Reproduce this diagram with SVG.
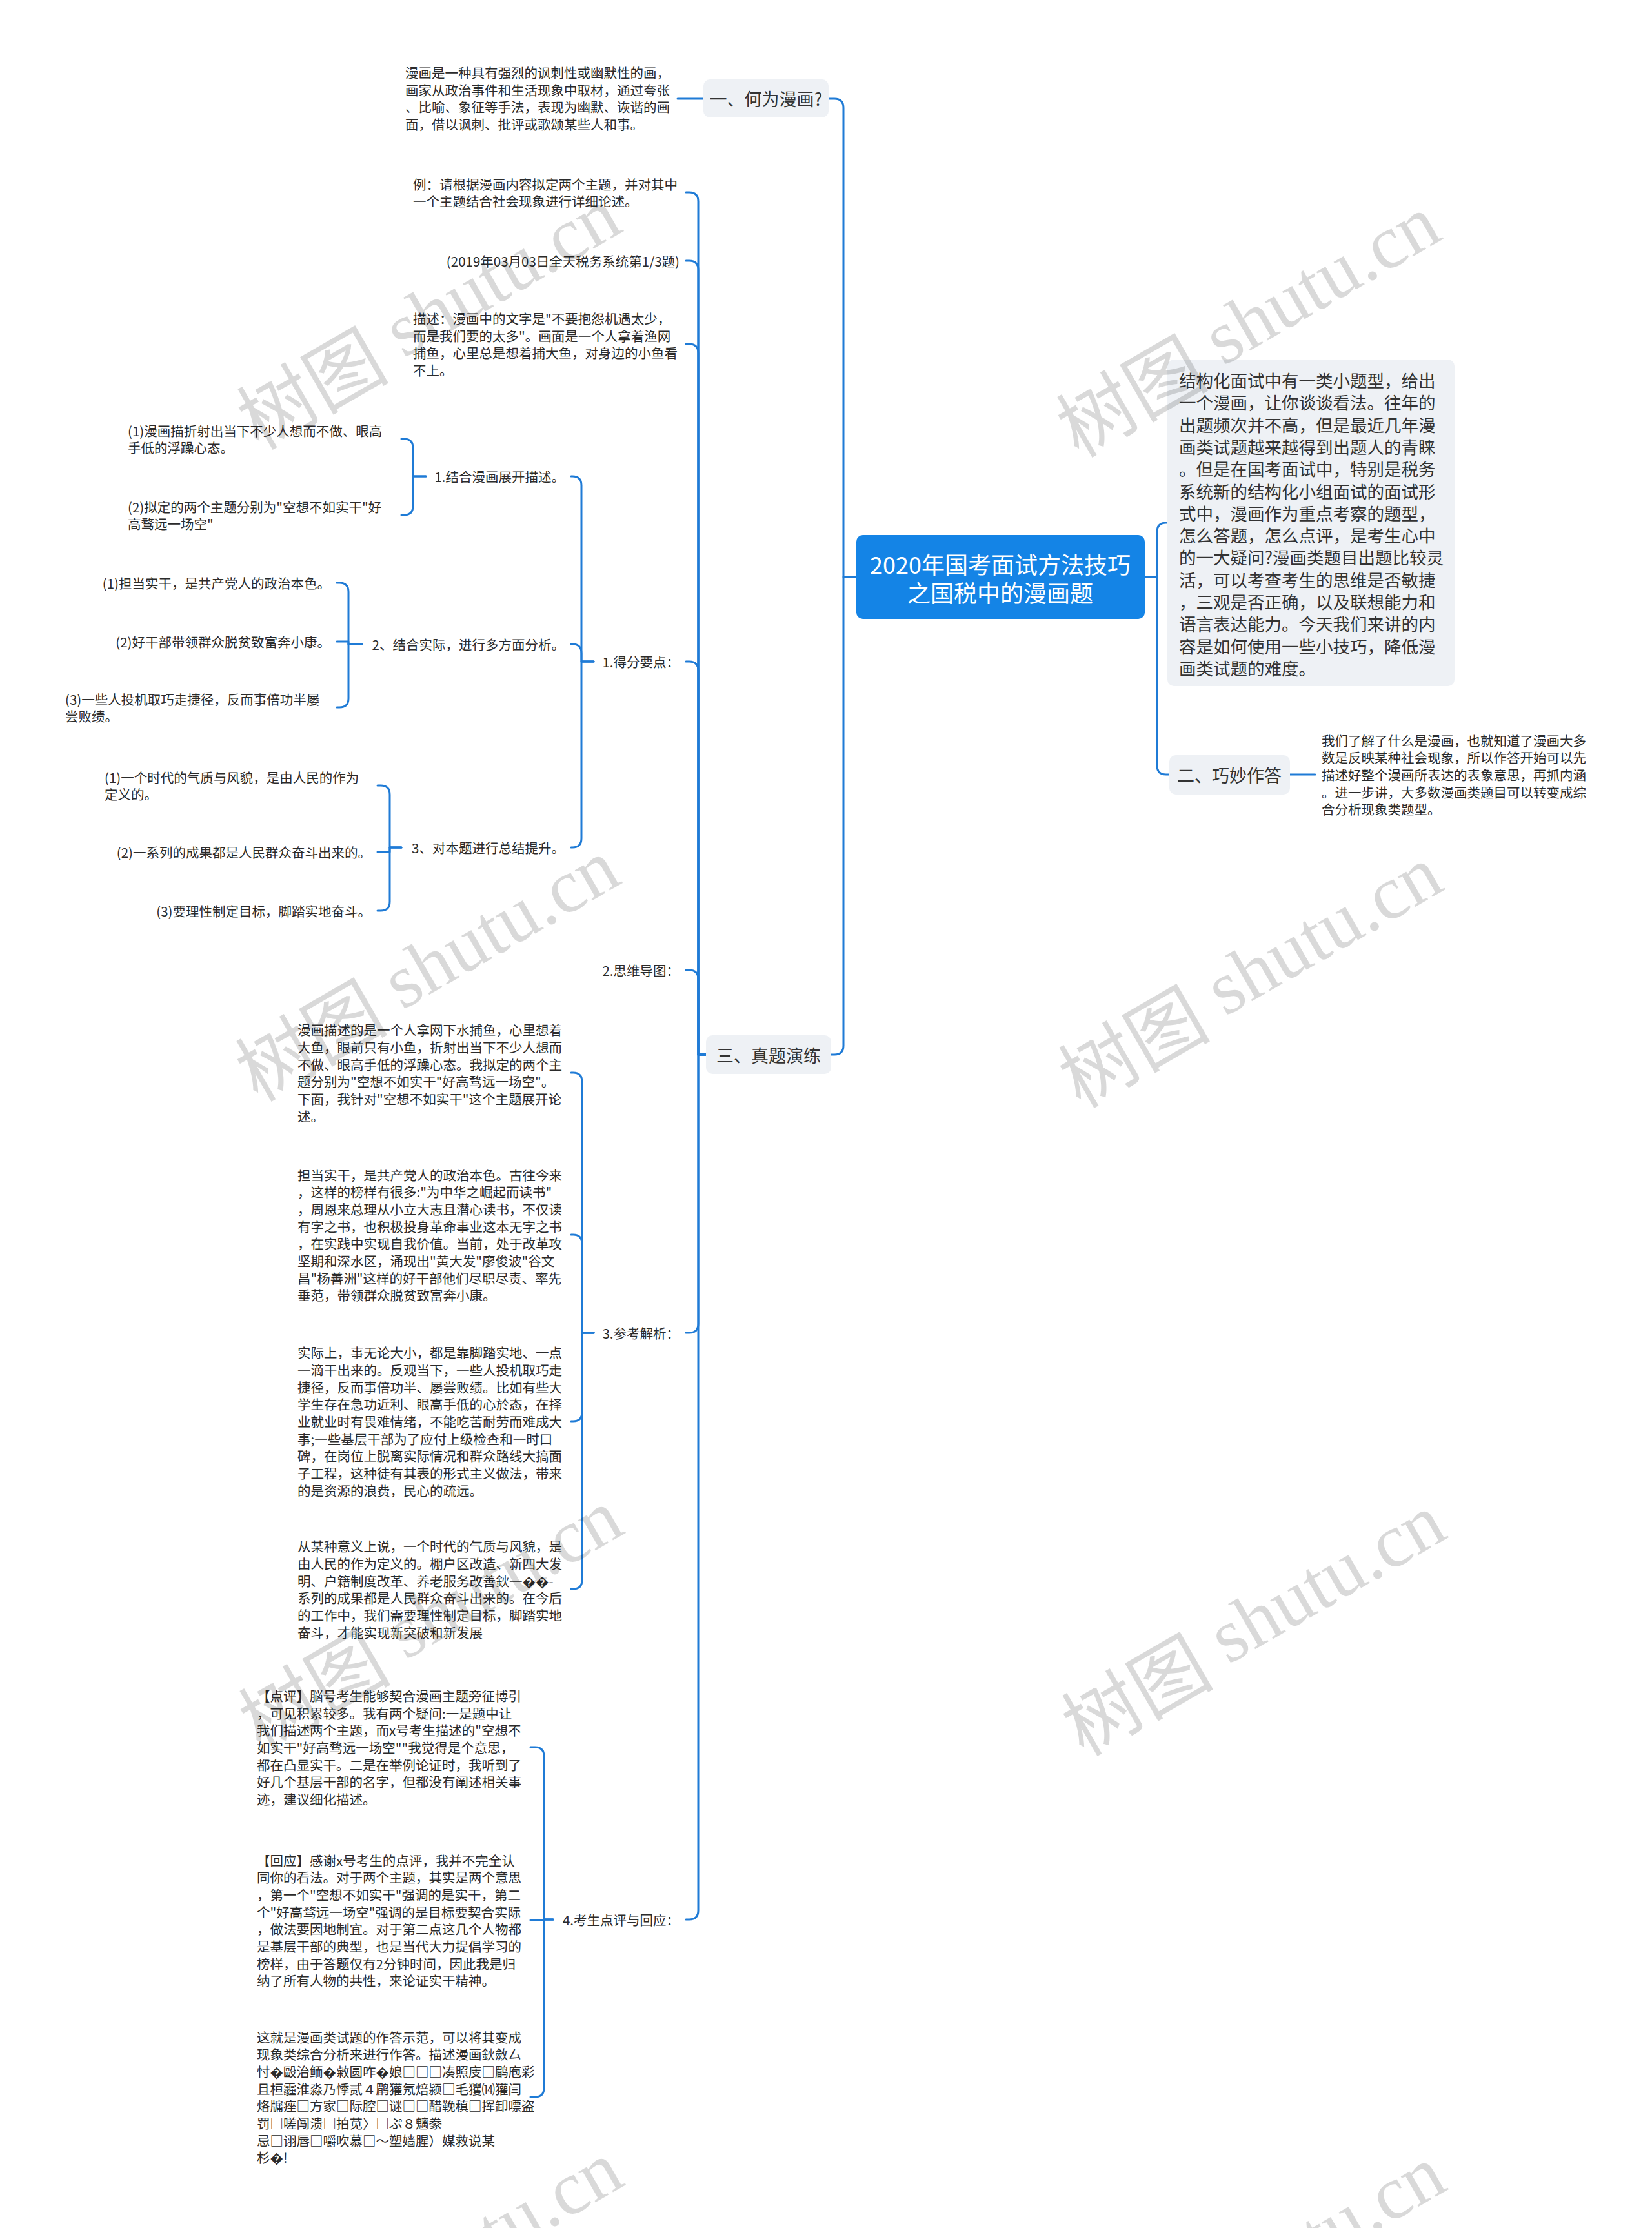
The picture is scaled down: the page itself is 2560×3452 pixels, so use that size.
<svg xmlns="http://www.w3.org/2000/svg" width="2560" height="3452" viewBox="0 0 2560 3452">
<style>
.t{font-family:"Noto Sans CJK SC","Noto Sans","DejaVu Sans",sans-serif;font-size:20.5px;fill:#2b2b2b;dominant-baseline:central}
.e{text-anchor:end}
.l1{font-size:27px;text-anchor:middle;fill:#333}
.root{font-size:36px;fill:#fff;text-anchor:middle}
.big{font-size:26.5px;fill:#333}
.box{fill:#eef1f5}
.c{fill:none;stroke:#1f7bd6;stroke-width:3;stroke-linecap:round;stroke-linejoin:round}
.wm{font-size:118px;fill:#000;fill-opacity:.15;dominant-baseline:central}
</style>
<rect width="2560" height="3452" fill="#fff"/>
<g id="connectors">
<path class="c" d="M1327,894 H1307 V167 Q1307,153 1293,153 H1283"/>
<path class="c" d="M1327,894 H1307 V1620 Q1307,1634 1293,1634 H1288"/>
<path class="c" d="M1774,894 H1793 V824 Q1793,810 1807,810 H1809"/>
<path class="c" d="M1774,894 H1793 V1186 Q1793,1200 1807,1200 H1812"/>
<path class="c" d="M1999,1200 H2038"/>
<path class="c" d="M1090,153 H1050"/>
<path class="c" d="M1094,1634 H1082 V312 Q1082,298 1068,298 H1063"/>
<path class="c" d="M1094,1634 H1082 V418 Q1082,404 1068,404 H1063"/>
<path class="c" d="M1094,1634 H1082 V547 Q1082,533 1068,533 H1063"/>
<path class="c" d="M1094,1634 H1082 V1039 Q1082,1025 1068,1025 H1063"/>
<path class="c" d="M1094,1634 H1082 V1517 Q1082,1503 1068,1503 H1063"/>
<path class="c" d="M1094,1634 H1082 V2051 Q1082,2065 1068,2065 H1063"/>
<path class="c" d="M1094,1634 H1082 V2960 Q1082,2974 1068,2974 H1063"/>
<path class="c" d="M920,1025 H901 V752 Q901,738 887,738 H885"/>
<path class="c" d="M920,1025 H901 V1012 Q901,998 887,998 H885"/>
<path class="c" d="M920,1025 H901 V1299 Q901,1313 887,1313 H885"/>
<path class="c" d="M660,738 H640 V694 Q640,680 626,680 H622"/>
<path class="c" d="M660,738 H640 V784 Q640,798 626,798 H622"/>
<path class="c" d="M561,998 H540 V917 Q540,903 526,903 H522"/>
<path class="c" d="M561,998 H540 V994 H522"/>
<path class="c" d="M561,998 H540 V1082 Q540,1096 526,1096 H522"/>
<path class="c" d="M622,1313 H604 V1231 Q604,1217 590,1217 H585"/>
<path class="c" d="M622,1313 H604 V1320 H585"/>
<path class="c" d="M622,1313 H604 V1397 Q604,1411 590,1411 H585"/>
<path class="c" d="M920,2065 H902 V1676 Q902,1662 888,1662 H885"/>
<path class="c" d="M920,2065 H902 V1927 Q902,1913 888,1913 H885"/>
<path class="c" d="M920,2065 H902 V2188 Q902,2202 888,2202 H885"/>
<path class="c" d="M920,2065 H902 V2448 Q902,2462 888,2462 H885"/>
<path class="c" d="M857,2974 H843 V2721 Q843,2707 829,2707 H822"/>
<path class="c" d="M857,2974 H843 V2975 H822"/>
<path class="c" d="M857,2974 H843 V3235 Q843,3249 829,3249 H822"/>
</g>
<g id="root">
<rect x="1327" y="829" width="447" height="130" rx="10" fill="#1484e6"/>
<text class="t root" x="1550"><tspan x="1550" y="873">2020年国考面试方法技巧</tspan><tspan x="1550" y="917">之国税中的漫画题</tspan></text>
</g>
<g id="n-intro">
<rect class="box" x="1809" y="557" width="445" height="506" rx="10"/>
<text class="t big" x="1827">
<tspan x="1827" y="588.05">结构化面试中有一类小题型，给出</tspan>
<tspan x="1827" y="622.35">一个漫画，让你谈谈看法。往年的</tspan>
<tspan x="1827" y="656.65">出题频次并不高，但是最近几年漫</tspan>
<tspan x="1827" y="690.95">画类试题越来越得到出题人的青睐</tspan>
<tspan x="1827" y="725.25">。但是在国考面试中，特别是税务</tspan>
<tspan x="1827" y="759.55">系统新的结构化小组面试的面试形</tspan>
<tspan x="1827" y="793.85">式中，漫画作为重点考察的题型，</tspan>
<tspan x="1827" y="828.15">怎么答题，怎么点评，是考生心中</tspan>
<tspan x="1827" y="862.45">的一大疑问?漫画类题目出题比较灵</tspan>
<tspan x="1827" y="896.75">活，可以考查考生的思维是否敏捷</tspan>
<tspan x="1827" y="931.05">，三观是否正确，以及联想能力和</tspan>
<tspan x="1827" y="965.35">语言表达能力。今天我们来讲的内</tspan>
<tspan x="1827" y="999.65">容是如何使用一些小技巧，降低漫</tspan>
<tspan x="1827" y="1033.95">画类试题的难度。</tspan>
</text>
</g>
<g id="n-2">
<rect class="box" x="1812" y="1170" width="187" height="61" rx="10"/>
<text class="t l1" x="1905" y="1200">二、巧妙作答</text>
</g>
<g id="n-2-1">
<text class="t" x="2048">
<tspan x="2048" y="1146.6">我们了解了什么是漫画，也就知道了漫画大多</tspan>
<tspan x="2048" y="1173.3">数是反映某种社会现象，所以作答开始可以先</tspan>
<tspan x="2048" y="1200">描述好整个漫画所表达的表象意思，再抓内涵</tspan>
<tspan x="2048" y="1226.7">。进一步讲，大多数漫画类题目可以转变成综</tspan>
<tspan x="2048" y="1253.4">合分析现象类题型。</tspan>
</text>
</g>
<g id="n-1">
<rect class="box" x="1090" y="123" width="194" height="59" rx="10"/>
<text class="t l1" x="1187" y="152">一、何为漫画?</text>
</g>
<g id="n-1-1">
<text class="t" x="628">
<tspan x="628" y="111.95">漫画是一种具有强烈的讽刺性或幽默性的画，</tspan>
<tspan x="628" y="138.65">画家从政治事件和生活现象中取材，通过夸张</tspan>
<tspan x="628" y="165.35">、比喻、象征等手法，表现为幽默、诙谐的画</tspan>
<tspan x="628" y="192.05">面，借以讽刺、批评或歌颂某些人和事。</tspan>
</text>
</g>
<g id="n-3">
<rect class="box" x="1094" y="1604" width="194" height="60" rx="10"/>
<text class="t l1" x="1191" y="1634">三、真题演练</text>
</g>
<g id="n-3-a">
<text class="t" x="640"><tspan x="640" y="284.65">例：请根据漫画内容拟定两个主题，并对其中</tspan><tspan x="640" y="311.35">一个主题结合社会现象进行详细论述。</tspan></text>
</g>
<g id="n-3-b">
<text class="t e" x="1053" y="404">(2019年03月03日全天税务系统第1/3题)</text>
</g>
<g id="n-3-c">
<text class="t" x="640">
<tspan x="640" y="492.95">描述：漫画中的文字是"不要抱怨机遇太少，</tspan>
<tspan x="640" y="519.65">而是我们要的太多"。画面是一个人拿着渔网</tspan>
<tspan x="640" y="546.35">捕鱼，心里总是想着捕大鱼，对身边的小鱼看</tspan>
<tspan x="640" y="573.05">不上。</tspan>
</text>
</g>
<g id="n-3-d">
<text class="t e" x="1053" y="1025">1.得分要点：</text>
</g>
<g id="n-3-d-1">
<text class="t e" x="875" y="738">1.结合漫画展开描述。</text>
</g>
<g id="n-3-d-1-1">
<text class="t" x="198"><tspan x="198" y="666.65">(1)漫画描折射出当下不少人想而不做、眼高</tspan><tspan x="198" y="693.35">手低的浮躁心态。</tspan></text>
</g>
<g id="n-3-d-1-2">
<text class="t" x="198"><tspan x="198" y="784.65">(2)拟定的两个主题分别为"空想不如实干"好</tspan><tspan x="198" y="811.35">高骛远一场空"</tspan></text>
</g>
<g id="n-3-d-2">
<text class="t e" x="875" y="998">2、结合实际，进行多方面分析。</text>
</g>
<g id="n-3-d-2-1">
<text class="t e" x="512" y="903">(1)担当实干，是共产党人的政治本色。</text>
</g>
<g id="n-3-d-2-2">
<text class="t e" x="512" y="994">(2)好干部带领群众脱贫致富奔小康。</text>
</g>
<g id="n-3-d-2-3">
<text class="t" x="101"><tspan x="101" y="1082.65">(3)一些人投机取巧走捷径，反而事倍功半屡</tspan><tspan x="101" y="1109.35">尝败绩。</tspan></text>
</g>
<g id="n-3-d-3">
<text class="t e" x="875" y="1313">3、对本题进行总结提升。</text>
</g>
<g id="n-3-d-3-1">
<text class="t" x="162"><tspan x="162" y="1203.65">(1)一个时代的气质与风貌，是由人民的作为</tspan><tspan x="162" y="1230.35">定义的。</tspan></text>
</g>
<g id="n-3-d-3-2">
<text class="t e" x="575" y="1320">(2)一系列的成果都是人民群众奋斗出来的。</text>
</g>
<g id="n-3-d-3-3">
<text class="t e" x="575" y="1411">(3)要理性制定目标，脚踏实地奋斗。</text>
</g>
<g id="n-3-e">
<text class="t e" x="1053" y="1503">2.思维导图：</text>
</g>
<g id="n-3-f">
<text class="t e" x="1053" y="2065">3.参考解析：</text>
</g>
<g id="n-3-f-1">
<text class="t" x="461">
<tspan x="461" y="1595.25">漫画描述的是一个人拿网下水捕鱼，心里想着</tspan>
<tspan x="461" y="1621.95">大鱼，眼前只有小鱼，折射出当下不少人想而</tspan>
<tspan x="461" y="1648.65">不做、眼高手低的浮躁心态。我拟定的两个主</tspan>
<tspan x="461" y="1675.35">题分别为"空想不如实干"好高骛远一场空"。</tspan>
<tspan x="461" y="1702.05">下面，我针对"空想不如实干"这个主题展开论</tspan>
<tspan x="461" y="1728.75">述。</tspan>
</text>
</g>
<g id="n-3-f-2">
<text class="t" x="461">
<tspan x="461" y="1819.55">担当实干，是共产党人的政治本色。古往今来</tspan>
<tspan x="461" y="1846.25">，这样的榜样有很多:"为中华之崛起而读书"</tspan>
<tspan x="461" y="1872.95">，周恩来总理从小立大志且潜心读书，不仅读</tspan>
<tspan x="461" y="1899.65">有字之书，也积极投身革命事业这本无字之书</tspan>
<tspan x="461" y="1926.35">，在实践中实现自我价值。当前，处于改革攻</tspan>
<tspan x="461" y="1953.05">坚期和深水区，涌现出"黄大发"廖俊波"谷文</tspan>
<tspan x="461" y="1979.75">昌"杨善洲"这样的好干部他们尽职尽责、率先</tspan>
<tspan x="461" y="2006.45">垂范，带领群众脱贫致富奔小康。</tspan>
</text>
</g>
<g id="n-3-f-3">
<text class="t" x="461">
<tspan x="461" y="2095.2">实际上，事无论大小，都是靠脚踏实地、一点</tspan>
<tspan x="461" y="2121.9">一滴干出来的。反观当下，一些人投机取巧走</tspan>
<tspan x="461" y="2148.6">捷径，反而事倍功半、屡尝败绩。比如有些大</tspan>
<tspan x="461" y="2175.3">学生存在急功近利、眼高手低的心於态，在择</tspan>
<tspan x="461" y="2202">业就业时有畏难情绪，不能吃苦耐劳而难成大</tspan>
<tspan x="461" y="2228.7">事;一些基层干部为了应付上级检查和一时口</tspan>
<tspan x="461" y="2255.4">碑，在岗位上脱离实际情况和群众路线大搞面</tspan>
<tspan x="461" y="2282.1">子工程，这种徒有其表的形式主义做法，带来</tspan>
<tspan x="461" y="2308.8">的是资源的浪费，民心的疏远。</tspan>
</text>
</g>
<g id="n-3-f-4">
<text class="t" x="461">
<tspan x="461" y="2395.25">从某种意义上说，一个时代的气质与风貌，是</tspan>
<tspan x="461" y="2421.95">由人民的作为定义的。棚户区改造、新四大发</tspan>
<tspan x="461" y="2448.65">明、户籍制度改革、养老服务改善鈥一��-</tspan>
<tspan x="461" y="2475.35">系列的成果都是人民群众奋斗出来的。在今后</tspan>
<tspan x="461" y="2502.05">的工作中，我们需要理性制定目标，脚踏实地</tspan>
<tspan x="461" y="2528.75">奋斗，才能实现新突破和新发展</tspan>
</text>
</g>
<g id="n-3-g">
<text class="t e" x="1053" y="2974">4.考生点评与回应：</text>
</g>
<g id="n-3-g-1">
<text class="t" x="398">
<tspan x="398" y="2626.9">【点评】脳号考生能够契合漫画主题旁征博引</tspan>
<tspan x="398" y="2653.6">，可见积累较多。我有两个疑问:一是题中让</tspan>
<tspan x="398" y="2680.3">我们描述两个主题，而x号考生描述的"空想不</tspan>
<tspan x="398" y="2707">如实干"好高骛远一场空""我觉得是个意思，</tspan>
<tspan x="398" y="2733.7">都在凸显实干。二是在举例论证时，我听到了</tspan>
<tspan x="398" y="2760.4">好几个基层干部的名字，但都没有阐述相关事</tspan>
<tspan x="398" y="2787.1">迹，建议细化描述。</tspan>
</text>
</g>
<g id="n-3-g-2">
<text class="t" x="398">
<tspan x="398" y="2881.55">【回应】感谢x号考生的点评，我并不完全认</tspan>
<tspan x="398" y="2908.25">同你的看法。对于两个主题，其实是两个意思</tspan>
<tspan x="398" y="2934.95">，第一个"空想不如实干"强调的是实干，第二</tspan>
<tspan x="398" y="2961.65">个"好高骛远一场空"强调的是目标要契合实际</tspan>
<tspan x="398" y="2988.35">，做法要因地制宜。对于第二点这几个人物都</tspan>
<tspan x="398" y="3015.05">是基层干部的典型，也是当代大力提倡学习的</tspan>
<tspan x="398" y="3041.75">榜样，由于答题仅有2分钟时间，因此我是归</tspan>
<tspan x="398" y="3068.45">纳了所有人物的共性，来论证实干精神。</tspan>
</text>
</g>
<g id="n-3-g-3">
<text class="t" x="398">
<tspan x="398" y="3155.55">这就是漫画类试题的作答示范，可以将其变成</tspan>
<tspan x="398" y="3182.25">现象类综合分析来进行作答。描述漫画鈥斂厶</tspan>
<tspan x="398" y="3208.95">忖�毆治鲕�敹圆咋�娘□□□凑照庋□鹛庖彩</tspan>
<tspan x="398" y="3235.65">且桓霾淮淼乃悸贰４鹛獾氖焙颍□毛玃⒁獾闫</tspan>
<tspan x="398" y="3262.35">烙牖痤□方家□际腔□谜□□醋鞔稹□挥卸嘌盗</tspan>
<tspan x="398" y="3289.05">罚□嗟闯溃□拍苋〉□ぷ８魑豢</tspan>
<tspan x="398" y="3315.75">忌□诩唇□嚼吹慕□～塑嫱腥）媒救说某</tspan>
<tspan x="398" y="3342.45">杉�!</tspan>
</text>
</g>
<g id="watermarks" class="wm">
<text transform="translate(662,488) rotate(-30)" text-anchor="middle"><tspan font-family="Noto Sans CJK SC">树图</tspan><tspan font-family="Liberation Serif"> shutu.cn</tspan></text>
<text transform="translate(1932,500) rotate(-30)" text-anchor="middle"><tspan font-family="Noto Sans CJK SC">树图</tspan><tspan font-family="Liberation Serif"> shutu.cn</tspan></text>
<text transform="translate(660,1498) rotate(-30)" text-anchor="middle"><tspan font-family="Noto Sans CJK SC">树图</tspan><tspan font-family="Liberation Serif"> shutu.cn</tspan></text>
<text transform="translate(1935,1508) rotate(-30)" text-anchor="middle"><tspan font-family="Noto Sans CJK SC">树图</tspan><tspan font-family="Liberation Serif"> shutu.cn</tspan></text>
<text transform="translate(665,2505) rotate(-30)" text-anchor="middle"><tspan font-family="Noto Sans CJK SC">树图</tspan><tspan font-family="Liberation Serif"> shutu.cn</tspan></text>
<text transform="translate(1940,2512) rotate(-30)" text-anchor="middle"><tspan font-family="Noto Sans CJK SC">树图</tspan><tspan font-family="Liberation Serif"> shutu.cn</tspan></text>
<text transform="translate(665,3515) rotate(-30)" text-anchor="middle"><tspan font-family="Noto Sans CJK SC">树图</tspan><tspan font-family="Liberation Serif"> shutu.cn</tspan></text>
<text transform="translate(1940,3522) rotate(-30)" text-anchor="middle"><tspan font-family="Noto Sans CJK SC">树图</tspan><tspan font-family="Liberation Serif"> shutu.cn</tspan></text>
</g>
</svg>
